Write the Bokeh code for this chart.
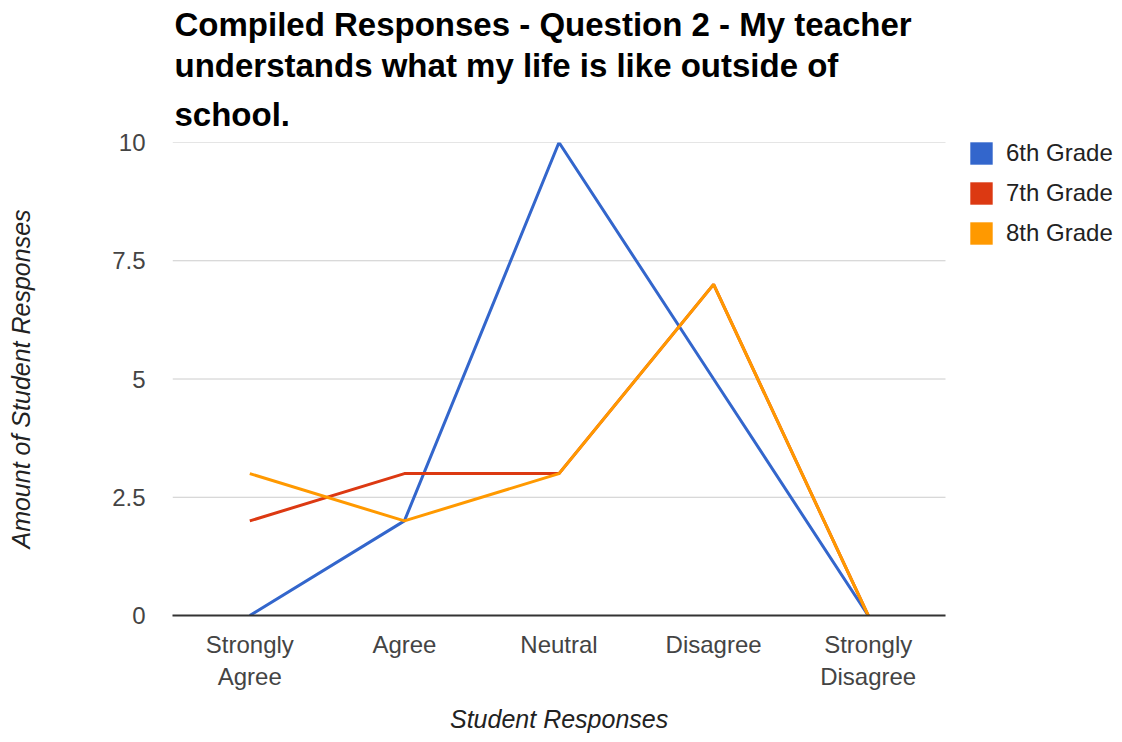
from bokeh.plotting import figure
from bokeh.models import Range1d, FixedTicker, Legend, LegendItem, Title
from bokeh.embed import file_html
from bokeh.resources import INLINE

# Survey answers, in axis order
categories = ["Strongly\nAgree", "Agree", "Neutral", "Disagree", "Strongly\nDisagree"]
grade6 = [0, 2, 10, 5, 0]
grade7 = [2, 3, 3, 7, 0]
grade8 = [3, 2, 3, 7, 0]
series_names = ["6th Grade", "7th Grade", "8th Grade"]
series_colors = ["#3366cc", "#dc3912", "#ff9900"]

y_ticks = [0, 2.5, 5, 7.5, 10]
y_tick_labels = ["0", "2.5", "5", "7.5", "10"]

title_lines = ["Compiled Responses - Question 2 - My teacher",
               "understands what my life is like outside of",
               "school."]
x_title = "Student Responses"
y_title = "Amount of Student Responses"

FONT = "Liberation Sans"
nan = float("nan")

# page geometry: the chart area is 773 px wide; the legend lives in the
# space to its right, inside the same drawing frame
W, H = 1122, 742
BORDER_L, BORDER_T, BORDER_B = 172, 142, 125
CHART_W = 773
FRAME_W = W - BORDER_L
FRAME_H = H - BORDER_T - BORDER_B
X_TITLE_W = 218  # approximate rendered width of the x-axis title

n = len(categories)
x_pos = list(range(n))
x_lo, x_hi = -0.5, n - 0.5
x_end = x_lo + (x_hi - x_lo) * FRAME_W / CHART_W

p = figure(width=W, height=H, output_backend="svg", toolbar_location=None,
           x_range=Range1d(x_lo, x_end), y_range=Range1d(0, 10),
           min_border_left=BORDER_L, min_border_right=0,
           min_border_top=BORDER_T, min_border_bottom=BORDER_B,
           outline_line_color=None, title=None)

# three-line bold heading: each line is its own title, stacked upward
# from the plotting area (the last line is added first)
for i, line in reversed(list(enumerate(title_lines))):
    p.add_layout(Title(text=line, text_font=FONT, text_font_size="33px",
                       text_font_style="bold", text_color="#000000",
                       align="left", offset=2,
                       standoff=18.5 if i == len(title_lines) - 1 else 1.5),
                 "above")

# horizontal guide lines, limited to the chart area
p.segment(x0=[x_lo] * len(y_ticks), x1=[x_hi] * len(y_ticks), y0=y_ticks, y1=y_ticks,
          line_color="#cccccc", line_width=1)

# axes
p.xaxis.ticker = FixedTicker(ticks=x_pos)
p.xaxis.major_label_overrides = {i: c for i, c in zip(x_pos, categories)}
p.xaxis.bounds = (x_lo, x_hi)
p.yaxis.ticker = FixedTicker(ticks=y_ticks)
p.yaxis.major_label_overrides = {t: l for t, l in zip(y_ticks, y_tick_labels)}

for ax in (p.xaxis[0], p.yaxis[0]):
    ax.major_tick_line_color = None
    ax.minor_tick_line_color = None
    ax.major_label_text_font = FONT
    ax.major_label_text_font_size = "24px"
    ax.major_label_text_color = "#444444"
    ax.axis_label_text_font = FONT
    ax.axis_label_text_font_size = "25px"
    ax.axis_label_text_font_style = "italic"
    ax.axis_label_text_color = "#222222"

p.xaxis.axis_line_color = "#333333"
p.xaxis.axis_line_width = 2
p.xaxis.major_label_standoff = 9
p.xaxis.major_label_text_line_height = 1.2

# x-axis title, centred under the chart area rather than the whole frame
p.add_layout(Title(text=x_title, text_font=FONT, text_font_size="25px",
                   text_font_style="italic", text_color="#222222",
                   align="left", offset=CHART_W / 2 - X_TITLE_W / 2, standoff=20),
             "below")

p.yaxis.axis_label = y_title
p.yaxis.axis_line_color = None
p.yaxis.major_label_standoff = 21
p.yaxis.axis_label_standoff = 74

p.xgrid.grid_line_color = None
p.ygrid.grid_line_color = None

# series lines, with square swatches for the legend
items = []
for name, vals, color in zip(series_names, [grade6, grade7, grade8], series_colors):
    p.line(x=x_pos, y=vals, line_color=color, line_width=3)
    swatch = p.quad(left=[nan], right=[nan], top=[nan], bottom=[nan],
                    fill_color=color, line_color=None)
    items.append(LegendItem(label=name, renderers=[swatch]))

legend = Legend(items=items, location=(CHART_W + 22, FRAME_H - 107),
                orientation="vertical",
                glyph_width=28, glyph_height=28, label_height=28, spacing=12,
                label_standoff=11, padding=0, margin=0,
                border_line_color=None, background_fill_alpha=0,
                label_text_font=FONT, label_text_font_size="24px",
                label_text_color="#222222")
p.add_layout(legend, "center")

open("out.html", "w").write(file_html(p, INLINE))
